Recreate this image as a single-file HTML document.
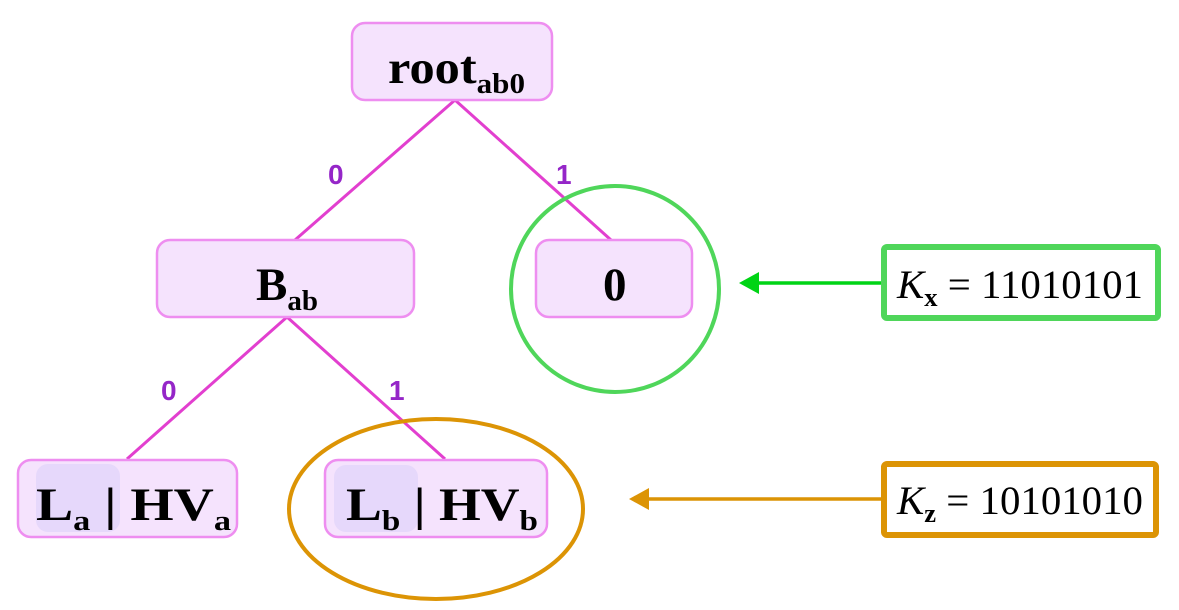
<!DOCTYPE html>
<html><head><style>
html,body{margin:0;padding:0;background:#fff;}
svg{display:block}
.n{font-family:"Liberation Serif",serif;font-weight:bold;font-size:47px;fill:#000}
.s{font-size:29px}
.l{font-family:"Liberation Sans",sans-serif;font-weight:bold;font-size:28px;fill:#9526c8}
.k{font-family:"Liberation Serif",serif;font-size:40px;fill:#000}
</style></head><body>
<svg width="1179" height="610" viewBox="0 0 1179 610">
<g stroke="#e23fcf" stroke-width="3" fill="none">
<line x1="455" y1="100" x2="295" y2="240"/>
<line x1="455" y1="100" x2="611" y2="240"/>
<line x1="287" y1="317" x2="127" y2="459"/>
<line x1="287" y1="317" x2="445" y2="459"/>
</g>
<g fill="#f5e3fd" stroke="#ee8ef0" stroke-width="2.5">
<rect x="352" y="23" width="200" height="77" rx="13"/>
<rect x="157" y="240" width="257" height="77" rx="13"/>
<rect x="536" y="240" width="156" height="77" rx="13"/>
<rect x="18" y="460" width="219" height="77" rx="13"/>
<rect x="325" y="460" width="222" height="77" rx="13"/>
</g>
<rect x="36" y="464" width="84" height="68" rx="12" fill="#e6d8fb"/>
<rect x="334" y="465" width="84" height="67" rx="12" fill="#e6d8fb"/>
<text class="n" x="388" y="83" textLength="137" lengthAdjust="spacingAndGlyphs">root<tspan class="s" dy="10">ab0</tspan></text>
<text class="n" x="256" y="300">B<tspan class="s" dy="10">ab</tspan></text>
<text class="n" x="603" y="300">0</text>
<text class="n" x="36" y="520" textLength="195" lengthAdjust="spacingAndGlyphs">L<tspan class="s" dy="10">a</tspan><tspan dy="-10"> | HV</tspan><tspan class="s" dy="10">a</tspan></text>
<text class="n" x="346" y="520" textLength="192" lengthAdjust="spacingAndGlyphs">L<tspan class="s" dy="10">b</tspan><tspan dy="-10"> | HV</tspan><tspan class="s" dy="10">b</tspan></text>
<text class="l" x="328" y="184">0</text>
<text class="l" x="556" y="184">1</text>
<text class="l" x="161" y="400">0</text>
<text class="l" x="389" y="400">1</text>
<ellipse cx="615" cy="289" rx="104" ry="103" fill="none" stroke="#4fd65a" stroke-width="4"/>
<ellipse cx="436" cy="509" rx="147" ry="90" fill="none" stroke="#dc9405" stroke-width="4"/>
<line x1="756" y1="283" x2="888" y2="283" stroke="#00d415" stroke-width="3.5"/>
<polygon points="739,283 759,272 759,294" fill="#00d415"/>
<circle cx="888" cy="283" r="3.5" fill="#00d415"/>
<line x1="646" y1="499" x2="884" y2="499" stroke="#dc9405" stroke-width="3.5"/>
<polygon points="629,499 649,488 649,510" fill="#dc9405"/>
<rect x="884" y="247" width="274" height="71" fill="#fff" stroke="#4fd65a" stroke-width="6" rx="3"/>
<rect x="884" y="464" width="272" height="71" fill="#fff" stroke="#dc9405" stroke-width="6" rx="3"/>
<text class="k" x="897" y="298" textLength="246" lengthAdjust="spacingAndGlyphs"><tspan font-style="italic">K</tspan><tspan font-weight="bold" font-size="26" dy="8">x</tspan><tspan dy="-8"> = 11010101</tspan></text>
<text class="k" x="897" y="514" textLength="246" lengthAdjust="spacingAndGlyphs"><tspan font-style="italic">K</tspan><tspan font-weight="bold" font-size="26" dy="8">z</tspan><tspan dy="-8"> = 10101010</tspan></text>
</svg>
</body></html>
